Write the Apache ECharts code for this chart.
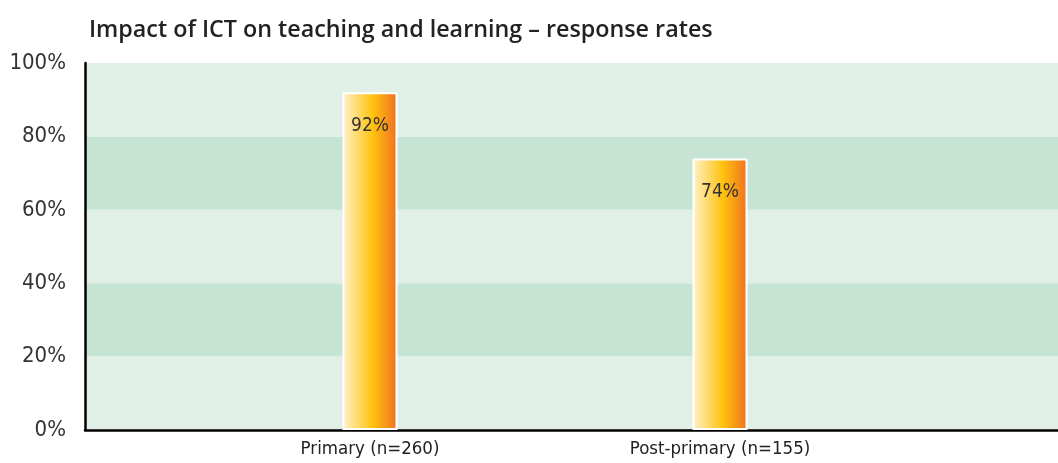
<!DOCTYPE html>
<html><head><meta charset="utf-8">
<script src="https://cdn.jsdelivr.net/npm/echarts@6/dist/echarts.min.js"></script>
<style>html,body{margin:0;padding:0;background:#fff}#c{width:1058px;height:463px}</style>
</head><body><div id="c"></div>
<script>
const title = 'Impact of ICT on teaching and learning – response rates';
const categories = ['Primary (n=260)', 'Post-primary (n=155)'];
const values = [92, 74];
const yTicks = [0, 20, 40, 60, 80, 100];

const chart = echarts.init(document.getElementById('c'));
const font = '"DejaVu Sans Condensed", "DejaVu Sans", sans-serif';
chart.setOption({
  animation: false,
  title: {text: title, left: 84, top: 14, textStyle: {fontFamily: '"Open Sans", sans-serif', fontWeight: 600, fontSize: 23.3, color: '#222'}},
  grid: [
    {left: 85, right: 0, top: 63, bottom: 33},
    {left: 195, right: 163, top: 63, bottom: 33}
  ],
  xAxis: [
    {type: 'category', gridIndex: 0, data: [''], axisLine: {lineStyle: {color: '#000', width: 2.5}}, axisTick: {show: false}, axisLabel: {show: false}},
    {type: 'category', gridIndex: 1, data: categories, axisLine: {show: false}, axisTick: {show: false},
     axisLabel: {fontFamily: font, fontSize: 18.5, color: '#222', margin: 10}}
  ],
  yAxis: [
    {type: 'value', gridIndex: 0, min: yTicks[0], max: yTicks[yTicks.length-1], interval: 20,
     axisLine: {show: true, lineStyle: {color: '#000', width: 2.5}}, axisTick: {show: false},
     splitLine: {show: false},
     splitArea: {show: true, areaStyle: {color: ['#e1f0e7', '#c6e4d3']}},
     axisLabel: {formatter: '{value}%', fontFamily: font, fontSize: 22, color: '#333', margin: 19}},
    {type: 'value', gridIndex: 1, min: 0, max: 100, show: false}
  ],
  series: [{
    type: 'bar', xAxisIndex: 1, yAxisIndex: 1, data: values, barWidth: 55,
    itemStyle: {
      borderColor: '#fff', borderWidth: 2,
      color: new echarts.graphic.LinearGradient(0, 0, 1, 0, [
        {offset: 0, color: '#fff2cc'},
        {offset: 0.55, color: '#ffc20e'},
        {offset: 1, color: '#f07020'}
      ])
    },
    label: {show: true, position: 'insideTop', distance: 24, formatter: '{c}%', fontFamily: font, fontSize: 19, color: '#333'}
  }]
});
</script></body></html>
